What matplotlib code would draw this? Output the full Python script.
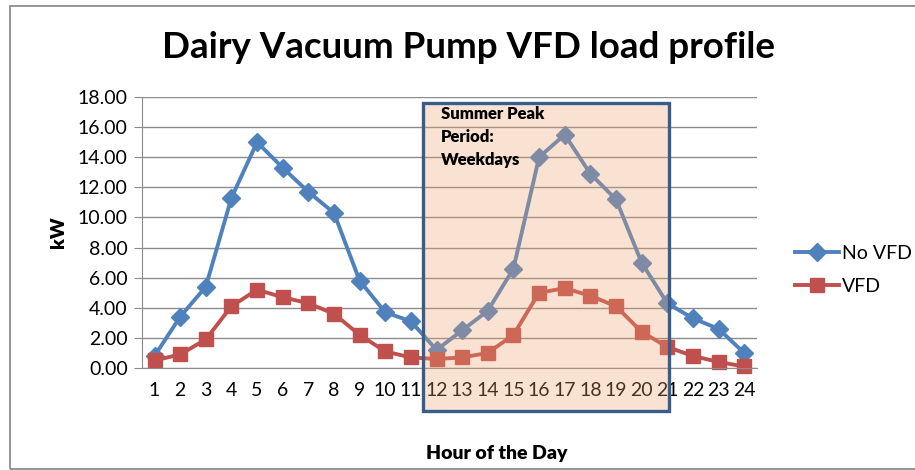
import numpy as np
import matplotlib.pyplot as plt
from matplotlib.patches import Rectangle

plt.rcParams['font.family'] = ['Lato', 'DejaVu Sans']

hours = np.arange(1, 25)
no_vfd = [0.8, 3.4, 5.4, 11.3, 15.0, 13.3, 11.7, 10.3, 5.8, 3.7, 3.1, 1.2,
          2.5, 3.8, 6.6, 14.0, 15.5, 12.9, 11.2, 7.0, 4.3, 3.3, 2.6, 1.0]
vfd = [0.5, 0.9, 1.9, 4.1, 5.2, 4.7, 4.3, 3.6, 2.2, 1.1, 0.7, 0.6,
       0.7, 1.0, 2.2, 5.0, 5.3, 4.8, 4.1, 2.4, 1.4, 0.8, 0.4, 0.1]
yticks = np.arange(0, 18.01, 2)

W, H = 915, 470
fig = plt.figure(figsize=(W / 100, H / 100), dpi=100)
ax = fig.add_axes([141.7 / W, 1 - 368 / H, (757 - 141.7) / W, (368 - 97) / H])

ax.plot(hours, no_vfd, color='#4F81BD', lw=2.8, marker='D', ms=9, label='No VFD', clip_on=False)
ax.plot(hours, vfd, color='#C0504D', lw=2.8, marker='s', ms=10.5, label='VFD', clip_on=False)

ax.set_xlim(0.5, 24.5)
ax.set_ylim(0, 18)
ax.set_yticks(yticks)
ax.set_yticklabels(['%.2f' % v for v in yticks])
ax.set_xticks(hours)
ax.set_xticklabels([str(h) for h in hours])
ax.grid(axis='y', color='#8C8C8C', lw=1)
ax.set_axisbelow(True)
for s in ['top', 'right']:
    ax.spines[s].set_visible(False)
ax.spines['left'].set_color('#8C8C8C')
ax.spines['bottom'].set_color('#8C8C8C')
ax.tick_params(axis='y', length=6, color='#8C8C8C', labelsize=14, pad=4)
ax.tick_params(axis='x', length=0, labelsize=14, pad=10)

ax.set_ylabel('kW', fontsize=14, fontweight='heavy', labelpad=8)
fig.text(497 / W, 1 - 453 / H, 'Hour of the Day', ha='center', va='center',
         fontsize=14, fontweight='heavy')
fig.text(469 / W, 1 - 47 / H, 'Dairy Vacuum Pump VFD load profile', ha='center',
         va='center', fontsize=26.5, fontweight='bold')

leg = ax.legend(loc='center left', bbox_to_anchor=(777 / W, 1 - 270 / H),
                bbox_transform=fig.transFigure, frameon=False, fontsize=14,
                handlelength=2.3, labelspacing=0.85, handletextpad=0.15)

# peak period overlay box
x0, y0, x1, y1 = 423, 103, 669, 411
fig.patches.append(Rectangle((x0 / W, 1 - y1 / H), (x1 - x0) / W, (y1 - y0) / H,
                             transform=fig.transFigure, facecolor='#F1A26C',
                             alpha=0.3, edgecolor='none', zorder=5))
fig.patches.append(Rectangle((x0 / W, 1 - y1 / H), (x1 - x0) / W, (y1 - y0) / H,
                             transform=fig.transFigure, facecolor='none',
                             edgecolor='#385D8A', lw=2.4, zorder=6))
fig.text(441 / W, 1 - 106 / H, 'Summer Peak\nPeriod:\nWeekdays', ha='left', va='top',
         fontsize=12, fontweight='heavy', linespacing=1.55, zorder=7)

# outer chart border
fig.patches.append(Rectangle((10 / W, 1 - 469 / H), (W - 8) / W, (469 - 6) / H,
                             transform=fig.transFigure, facecolor='none',
                             edgecolor='#8C8C8C', lw=1.3, zorder=1))

fig.savefig('out.png', dpi=100)
